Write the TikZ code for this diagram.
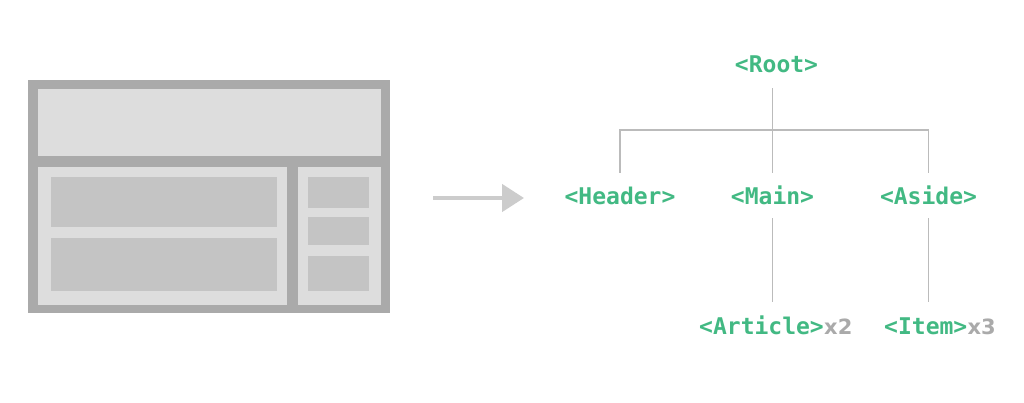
\documentclass[tikz,border=0pt]{standalone}
\usepackage{fontspec}
\setmainfont{DejaVu Sans}
\setmonofont{DejaVu Sans Mono}
\usetikzlibrary{arrows.meta}
\definecolor{vuegreen}{HTML}{42B983}
\definecolor{frame}{HTML}{AAAAAA}
\definecolor{panel}{HTML}{DDDDDD}
\definecolor{block}{HTML}{C4C4C4}
\definecolor{wire}{HTML}{BBBBBB}
\definecolor{count}{HTML}{AAAAAA}
\definecolor{pointer}{HTML}{CCCCCC}

\begin{document}
\begin{tikzpicture}[x=1pt, y=-1pt,
    tag/.style={font=\ttfamily\bfseries\fontsize{23}{28}\selectfont, text=vuegreen, inner sep=0pt, text height=16pt, text depth=0pt, anchor=base},
    times/.style={font=\bfseries\fontsize{21}{26}\selectfont, text=count, inner sep=0pt, text height=16pt, text depth=0pt, anchor=base west},
    branch/.style={wire, line width=1.8pt}]
    \fill[white] (0,0) rectangle (1024,403);
    % page layout
    \fill[frame] (28,80) rectangle (390,313);
    \fill[panel] (38,89) rectangle (381,156);
    \fill[panel] (38,167) rectangle (287,305);
    \fill[panel] (298,167) rectangle (381,305);
    \foreach \top/\bot in {177/227, 238/291} {\fill[block] (51,\top) rectangle (277,\bot);}
    \foreach \top/\bot in {177/208, 217/245, 256/291} {\fill[block] (308,\top) rectangle (369,\bot);}
    % arrow
    \coordinate (src) at (433,198);
    \coordinate (dst) at (524,198);
    \draw[pointer, line width=4.5pt, -{Triangle[length=22pt, width=27pt]}] (src) -- (dst);
    % tree
    \node[tag] (root) at (776.5,73) {<Root>};
    \node[tag] (header) at (620,205) {<Header>};
    \node[tag] (main) at (772.5,205) {<Main>};
    \node[tag] (aside) at (928.5,205) {<Aside>};
    \node[tag, anchor=base west] (article) at (699,334) {<Article>};
    \node[times] (articlecount) at (article.base east) {x2};
    \node[tag, anchor=base west] (item) at (884,334) {<Item>};
    \node[times] (itemcount) at (item.base east) {x3};
    \coordinate (hbar) at (772.5,130);
    \draw[branch, shorten <=15pt, shorten >=16pt] (root.south -| main.north) -- (main.north);
    \draw[branch] ([yshift=16pt]header.north) |- (hbar) -| ([yshift=16pt]aside.north);
    \draw[branch, shorten <=13pt, shorten >=16pt] (main.south) -- (main.south |- article.north);
    \draw[branch, shorten <=13pt, shorten >=16pt] (aside.south) -- (aside.south |- item.north);
\end{tikzpicture}
\end{document}
